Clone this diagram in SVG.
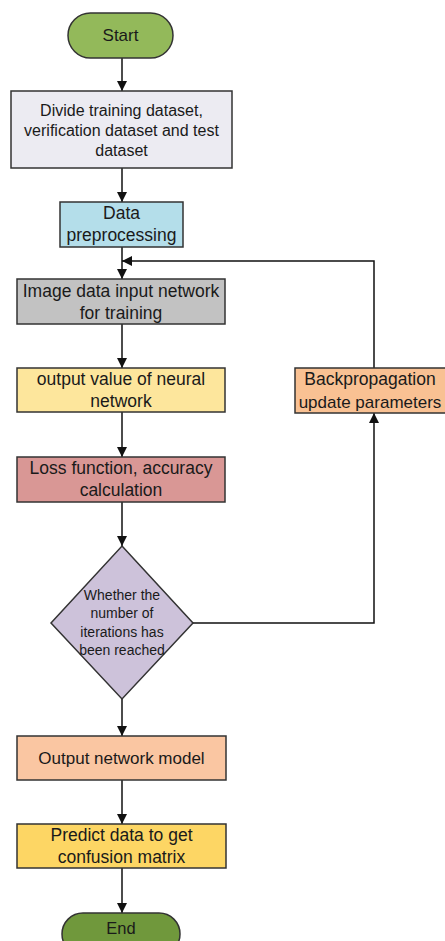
<svg xmlns="http://www.w3.org/2000/svg" width="445" height="941" viewBox="0 0 445 941">
<defs>
<marker id="ah" viewBox="0 0 10 10" refX="10" refY="5" markerWidth="10" markerHeight="10" markerUnits="userSpaceOnUse" orient="auto">
<path d="M0,0 L10,5 L0,10 Z" fill="#111"/>
</marker>
</defs>
<style>
.box{stroke:#333;stroke-width:1.5}
.t{font-family:"Liberation Sans",Arial,sans-serif;font-size:16px;fill:#1a1a1a;text-anchor:middle}
.tl{font-family:"Liberation Sans",Arial,sans-serif;font-size:17.5px;fill:#1a1a1a;text-anchor:middle}
.ts{font-family:"Liberation Sans",Arial,sans-serif;font-size:14px;fill:#1a1a1a;text-anchor:middle}
.c{fill:none;stroke:#111;stroke-width:1.5;marker-end:url(#ah)}
</style>
<rect width="445" height="941" fill="#fff"/>
<g id="connectors">
<line class="c" x1="122" y1="58" x2="122" y2="91"/>
<line class="c" x1="122" y1="168" x2="122" y2="202"/>
<line class="c" x1="122" y1="247" x2="122" y2="279"/>
<line class="c" x1="122" y1="324" x2="122" y2="368"/>
<line class="c" x1="122" y1="412" x2="122" y2="457"/>
<line class="c" x1="122" y1="502" x2="122" y2="546"/>
<line class="c" x1="122" y1="699" x2="122" y2="736"/>
<line class="c" x1="122" y1="780" x2="122" y2="824"/>
<line class="c" x1="122" y1="868" x2="122" y2="913"/>
<polyline class="c" points="193,623 374,623 374,413"/>
<polyline class="c" points="374,368 374,261 122,261"/>
</g>
<g id="start">
<rect class="box" x="68" y="13" width="105" height="45" rx="22.5" fill="#93b95a"/>
<text class="t" x="120.5" y="41" style="font-size:17px">Start</text>
</g>
<g id="divide">
<rect class="box" x="11" y="91" width="221" height="77" fill="#ecebf2"/>
<text class="t" x="121.5" y="116">Divide training dataset,</text>
<text class="t" x="121.5" y="136">verification dataset and test</text>
<text class="t" x="121.5" y="156">dataset</text>
</g>
<g id="preprocess">
<rect class="box" x="60" y="202" width="123" height="45" fill="#b4deea"/>
<text class="tl" x="121.5" y="219">Data</text>
<text class="tl" x="121.5" y="241">preprocessing</text>
</g>
<g id="input">
<rect class="box" x="17" y="279" width="208" height="45" fill="#c2c2c2"/>
<text class="tl" x="121" y="297">Image data input network</text>
<text class="tl" x="121" y="319">for training</text>
</g>
<g id="output-value">
<rect class="box" x="17" y="368" width="208" height="44" fill="#fde69c"/>
<text class="tl" x="121" y="385">output value of neural</text>
<text class="tl" x="121" y="407">network</text>
</g>
<g id="loss">
<rect class="box" x="17" y="457" width="208" height="45" fill="#d99795"/>
<text class="tl" x="121" y="474">Loss function, accuracy</text>
<text class="tl" x="121" y="496">calculation</text>
</g>
<g id="decision">
<polygon class="box" points="122,546 193,623 122,699 51,623" fill="#cdc2da"/>
<text class="ts" x="122" y="600">Whether the</text>
<text class="ts" x="122" y="618">number of</text>
<text class="ts" x="122" y="637">iterations has</text>
<text class="ts" x="122" y="655">been reached</text>
</g>
<g id="backprop">
<rect class="box" x="295" y="368" width="160" height="45" fill="#f9c193"/>
<text class="tl" x="370" y="385">Backpropagation</text>
<text class="tl" x="370" y="408" style="font-size:17px">update parameters</text>
</g>
<g id="output-model">
<rect class="box" x="17" y="736" width="209" height="44" fill="#fac6a2"/>
<text class="tl" x="121.5" y="764" style="font-size:17px">Output network model</text>
</g>
<g id="predict">
<rect class="box" x="17" y="824" width="209" height="44" fill="#fdd664"/>
<text class="tl" x="121.5" y="841">Predict data to get</text>
<text class="tl" x="121.5" y="863">confusion matrix</text>
</g>
<g id="end">
<rect class="box" x="62" y="913" width="118" height="42" rx="21" fill="#70983c"/>
<text class="t" x="121" y="934" style="font-size:16.5px">End</text>
</g>
</svg>
